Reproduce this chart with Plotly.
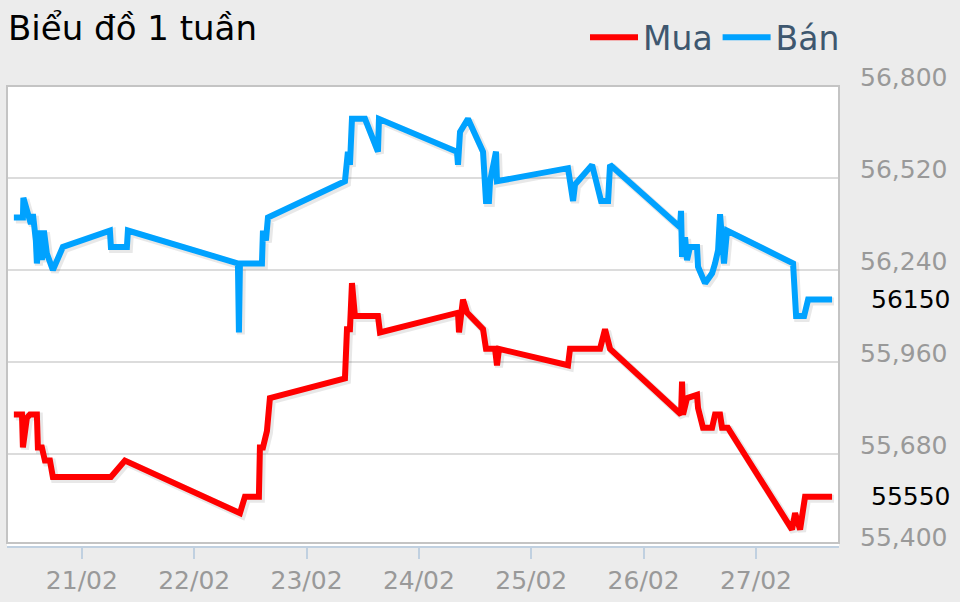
import plotly.graph_objects as go
import pandas as pd

# ---------------- data ----------------
ban_time = [
    "2021-02-20 09:28", "2021-02-20 11:24", "2021-02-20 11:30", "2021-02-20 13:06",
    "2021-02-20 13:32", "2021-02-20 14:10", "2021-02-20 14:23", "2021-02-20 15:01",
    "2021-02-20 15:27", "2021-02-20 15:53", "2021-02-20 16:31", "2021-02-20 17:48",
    "2021-02-20 19:56", "2021-02-21 05:59", "2021-02-21 06:12", "2021-02-21 09:37",
    "2021-02-21 09:50", "2021-02-22 09:20", "2021-02-22 09:33", "2021-02-22 09:46",
    "2021-02-22 14:28", "2021-02-22 14:41", "2021-02-22 15:19", "2021-02-22 15:45",
    "2021-02-23 08:12", "2021-02-23 08:25", "2021-02-23 08:50", "2021-02-23 09:16",
    "2021-02-23 09:42", "2021-02-23 12:29", "2021-02-23 15:15", "2021-02-23 15:28",
    "2021-02-24 08:08", "2021-02-24 08:21", "2021-02-24 08:47", "2021-02-24 10:29",
    "2021-02-24 13:42", "2021-02-24 14:20", "2021-02-24 14:58", "2021-02-24 15:12",
    "2021-02-24 16:28", "2021-02-24 16:41", "2021-02-25 07:51", "2021-02-25 08:56",
    "2021-02-25 09:21", "2021-02-25 13:00", "2021-02-25 14:55", "2021-02-25 16:25",
    "2021-02-25 16:50", "2021-02-26 07:47", "2021-02-26 08:00", "2021-02-26 08:13",
    "2021-02-26 08:52", "2021-02-26 09:17", "2021-02-26 09:55", "2021-02-26 11:25",
    "2021-02-26 11:38", "2021-02-26 13:08", "2021-02-26 14:38", "2021-02-26 15:16",
    "2021-02-26 15:55", "2021-02-26 16:20", "2021-02-26 16:46", "2021-02-26 17:11",
    "2021-02-26 17:50", "2021-02-27 07:56", "2021-02-27 08:35", "2021-02-27 10:18",
    "2021-02-27 11:09", "2021-02-27 16:16",
]
ban_value = [
    56400, 56400, 56460, 56380,
    56410, 56330, 56260, 56360,
    56270, 56360, 56290, 56240,
    56310, 56360, 56310, 56310,
    56360, 56260, 56050, 56260,
    56260, 56360, 56330, 56400,
    56510, 56550, 56600, 56560,
    56700, 56700, 56600, 56700,
    56600, 56560, 56660, 56700,
    56600, 56450, 56450, 56510,
    56600, 56510, 56550, 56450,
    56500, 56560, 56450, 56450,
    56560, 56370, 56420, 56280,
    56340, 56270, 56310, 56310,
    56250, 56200, 56230, 56260,
    56300, 56410, 56340, 56260,
    56360, 56260, 56100, 56100,
    56150, 56150,
]

mua_time = [
    "2021-02-20 09:28", "2021-02-20 11:12", "2021-02-20 11:24", "2021-02-20 12:15",
    "2021-02-20 12:54", "2021-02-20 14:23", "2021-02-20 14:36", "2021-02-20 15:27",
    "2021-02-20 16:06", "2021-02-20 17:10", "2021-02-20 17:48", "2021-02-21 06:12",
    "2021-02-21 09:11", "2021-02-22 09:46", "2021-02-22 10:50", "2021-02-22 13:49",
    "2021-02-22 14:02", "2021-02-22 14:41", "2021-02-22 15:32", "2021-02-22 16:10",
    "2021-02-23 08:12", "2021-02-23 08:38", "2021-02-23 09:16", "2021-02-23 09:42",
    "2021-02-23 10:20", "2021-02-23 15:15", "2021-02-23 15:41", "2021-02-24 08:21",
    "2021-02-24 08:34", "2021-02-24 09:25", "2021-02-24 10:17", "2021-02-24 13:42",
    "2021-02-24 14:20", "2021-02-24 16:16", "2021-02-24 16:41", "2021-02-24 17:07",
    "2021-02-25 07:51", "2021-02-25 08:17", "2021-02-25 14:42", "2021-02-25 15:46",
    "2021-02-25 16:50", "2021-02-26 08:00", "2021-02-26 08:13", "2021-02-26 08:26",
    "2021-02-26 09:17", "2021-02-26 11:25", "2021-02-26 11:38", "2021-02-26 12:42",
    "2021-02-26 14:38", "2021-02-26 15:16", "2021-02-26 16:20", "2021-02-26 16:46",
    "2021-02-26 18:00", "2021-02-27 07:43", "2021-02-27 08:22", "2021-02-27 09:26",
    "2021-02-27 10:30", "2021-02-27 16:16",
]
mua_value = [
    55800, 55800, 55700, 55790,
    55800, 55800, 55700, 55700,
    55660, 55660, 55610, 55610,
    55660, 55500, 55550, 55550,
    55700, 55700, 55750, 55850,
    55910, 56060, 56060, 56200,
    56100, 56100, 56050, 56110,
    56050, 56150, 56110, 56060,
    56000, 56000, 55950, 56000,
    55950, 56000, 56000, 56060,
    56000, 55800, 55900, 55800,
    55850, 55860, 55820, 55760,
    55760, 55800, 55800, 55760,
    55760, 55450, 55500, 55450,
    55550, 55550,
]

series_names = ["Mua", "Bán"]
y_min, y_max, y_step = 55400, 56800, 280
x_start, x_end = "2021-02-20 08:00", "2021-02-27 17:45"
first_tick = "2021-02-21"

# ---------------- layout geometry ----------------
W, H = 960, 602
ML, MR, MT, MB = 7, 121, 86, 54
PW, PH = W - ML - MR, H - MT - MB

FONT = "DejaVu Sans"
COLORS = {"Mua": "#ff0000", "Bán": "#00a2ff"}

# shadow offset (pixels) converted to axis units via the axis scales
xs, xe = pd.Timestamp(x_start), pd.Timestamp(x_end)
ms_per_px = (xe - xs) / PW
units_per_px = (y_max - y_min) / PH
off = 2
x2_range = [xs - off * ms_per_px, xe - off * ms_per_px]
y2_range = [y_min + off * units_per_px, y_max + off * units_per_px]

data = {"Mua": (mua_time, mua_value), "Bán": (ban_time, ban_value)}

fig = go.Figure()
for name in series_names:
    t, v = data[name]
    fig.add_trace(go.Scatter(
        x=t, y=v, mode="lines", xaxis="x2", yaxis="y2",
        line=dict(color="rgba(0,0,0,0.09)", width=8),
        showlegend=False, hoverinfo="skip"))
for name in series_names:
    t, v = data[name]
    fig.add_trace(go.Scatter(
        x=t, y=v, mode="lines", name=name, xaxis="x3", yaxis="y3",
        line=dict(color=COLORS[name], width=6)))

annotations = []
for name in series_names:
    t, v = data[name]
    annotations.append(dict(
        x=1, xref="paper", y=v[-1], yref="y", xanchor="left", yanchor="middle",
        xshift=30, text=str(v[-1]), showarrow=False,
        font=dict(family=FONT, size=25, color="#000000")))

fig.update_layout(
    width=W, height=H,
    margin=dict(l=ML, r=MR, t=MT, b=MB),
    paper_bgcolor="#ececec",
    plot_bgcolor="#ffffff",
    font=dict(family=FONT),
    title=dict(text="Biểu đồ 1 tuần", x=8 / W, xanchor="left", xref="container",
               y=1 - 28 / H, yanchor="middle",
               font=dict(family=FONT, size=34, color="#000000")),
    legend=dict(orientation="h", x=1 + 6 / PW, xanchor="right", y=(PH + 49) / PH,
                yanchor="middle", font=dict(family=FONT, size=33, color="#3e576f"),
                bgcolor="rgba(0,0,0,0)", itemwidth=48, traceorder="normal"),
    xaxis=dict(type="date", range=[xs, xe], tick0=first_tick, dtick=86400000,
               tickformat="%d/%m", ticks="outside", ticklen=11, tickwidth=2,
               tickcolor="#c0d0e0", showline=True, linecolor="#c0d0e0", linewidth=2,
               showgrid=False, zeroline=False,
               tickfont=dict(family=FONT, size=25, color="#999999")),
    yaxis=dict(side="right", range=[y_min, y_max], tick0=y_min, dtick=y_step,
               tickformat=",", showgrid=True, gridcolor="#dcdcdc", gridwidth=2,
               zeroline=False, ticks="", ticklabelshift=-9, ticklabelstandoff=20,
               tickfont=dict(family=FONT, size=25, color="#999999")),
    xaxis2=dict(type="date", overlaying="x", range=x2_range, visible=False),
    yaxis2=dict(overlaying="y", range=y2_range, visible=False),
    xaxis3=dict(type="date", overlaying="x", range=[xs, xe], visible=False),
    yaxis3=dict(overlaying="y", range=[y_min, y_max], visible=False),
    annotations=annotations,
    shapes=[dict(type="rect", xref="paper", yref="paper", x0=0, x1=1,
                 y0=3 / PH, y1=1, line=dict(color="#c4c4c4", width=2),
                 fillcolor="rgba(0,0,0,0)", layer="above")],
    showlegend=True,
)

fig.write_html("out.html", config={"displayModeBar": False},
               post_script="document.body.style.margin='0';document.body.style.padding='0';")
